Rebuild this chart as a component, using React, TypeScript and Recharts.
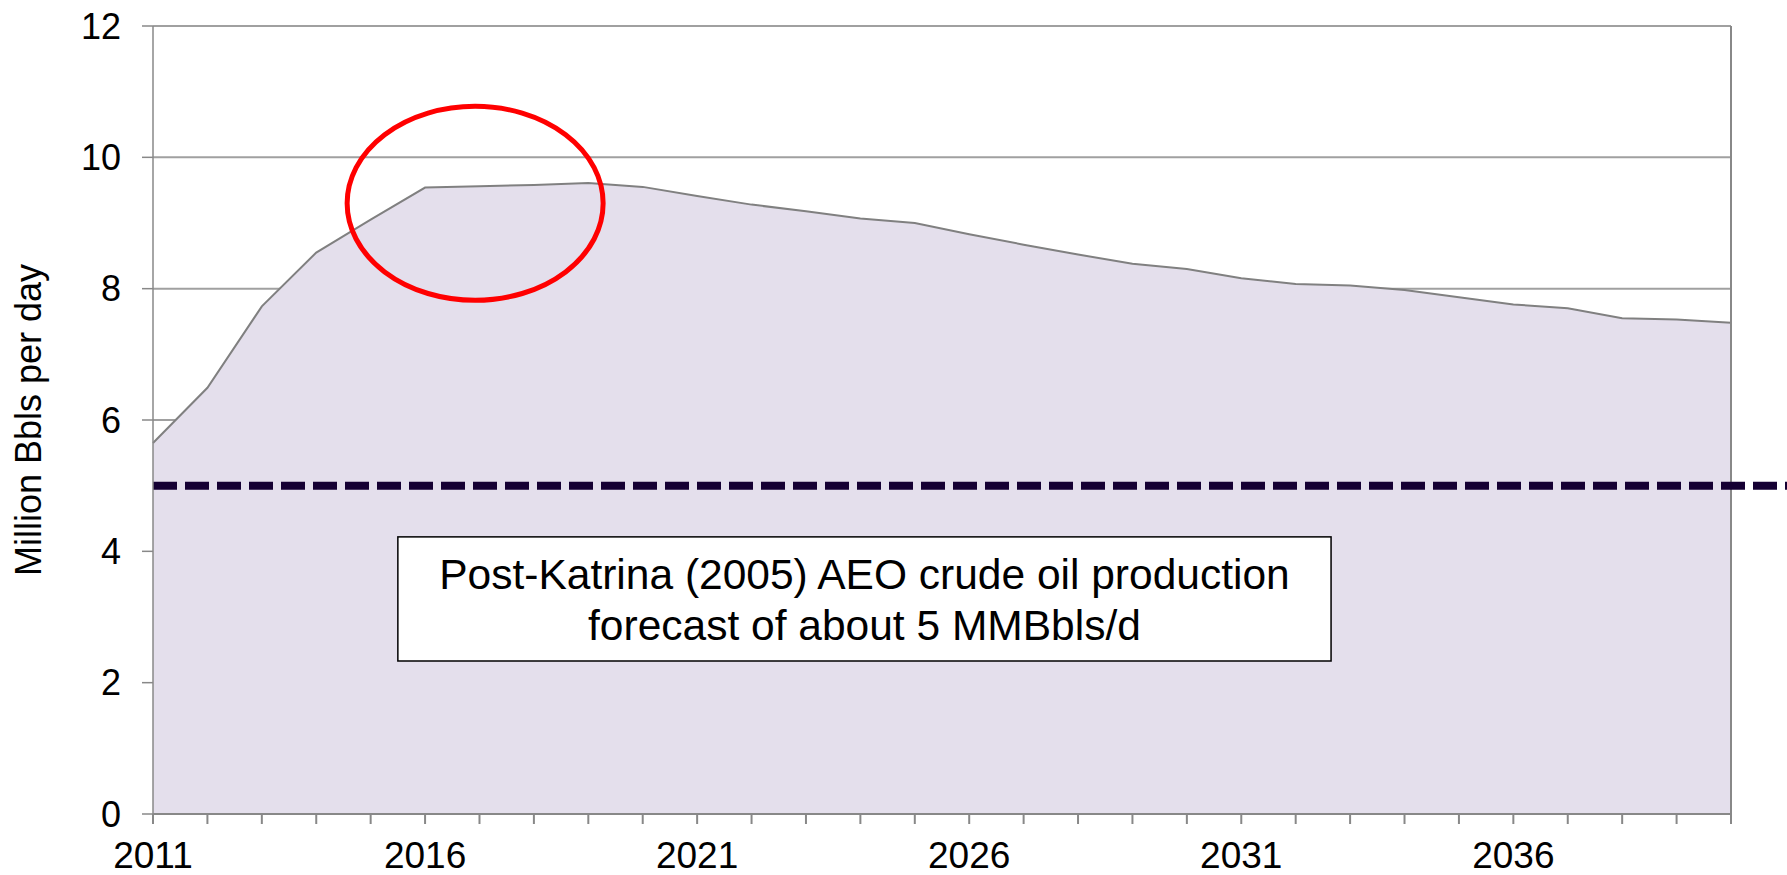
import {
  AreaChart,
  Area,
  XAxis,
  YAxis,
  CartesianGrid,
  ReferenceLine,
  ReferenceArea,
  ReferenceDot,
} from "recharts";

const years = [
  2011, 2012, 2013, 2014, 2015, 2016, 2017, 2018, 2019, 2020,
  2021, 2022, 2023, 2024, 2025, 2026, 2027, 2028, 2029, 2030,
  2031, 2032, 2033, 2034, 2035, 2036, 2037, 2038, 2039, 2040,
];

const production = [
  5.65, 6.49, 7.73, 8.55, 9.05, 9.54, 9.56, 9.58, 9.61, 9.55,
  9.41, 9.28, 9.18, 9.07, 9.0, 8.83, 8.67, 8.52, 8.38, 8.3,
  8.16, 8.07, 8.05, 7.98, 7.87, 7.76, 7.7, 7.55, 7.53, 7.48,
];

const labelYears = [2011, 2016, 2021, 2026, 2031, 2036];
const yTicks = [0, 2, 4, 6, 8, 10, 12];
const forecastLevel = 5;
const boxLines = [
  "Post-Katrina (2005) AEO crude oil production",
  "forecast of about 5 MMBbls/d",
];

const data = years.map((year, i) => ({ year, value: production[i] }));

const FONT = '"Liberation Sans", Arial, sans-serif';

const NoteBox = (props: any) => {
  const { x, y, width, height } = props;
  const cx = x + width / 2;
  const mid = y + height / 2;
  return (
    <g>
      <rect x={x} y={y} width={width} height={height} fill="#ffffff" stroke="#000000" strokeWidth={1.5} />
      <text x={cx} y={mid - 10} textAnchor="middle" fontSize={42.5} fontFamily={FONT} fill="#000">
        {boxLines[0]}
      </text>
      <text x={cx} y={mid + 41} textAnchor="middle" fontSize={42.5} fontFamily={FONT} fill="#000">
        {boxLines[1]}
      </text>
    </g>
  );
};

const Ring = (props: any) => {
  const { cx, cy } = props;
  return <ellipse cx={cx} cy={cy} rx={128} ry={97} fill="none" stroke="#ff0000" strokeWidth={5} />;
};

export default function App() {
  return (
    <div style={{ position: "absolute", left: 0, top: 0, background: "#fff" }}>
      <AreaChart
        width={1787}
        height={875}
        data={data}
        margin={{ top: 26, right: 56, bottom: 0, left: 0 }}
        style={{ fontFamily: FONT }}
      >
        <CartesianGrid vertical={false} stroke="#a0a0a0" strokeWidth={2} />
        <XAxis
          dataKey="year"
          type="number"
          domain={[2011, 2040]}
          ticks={years}
          interval={0}
          height={61}
          tickSize={10}
          tickMargin={18}
          tickFormatter={(v: number) => (labelYears.includes(v) ? String(v) : "")}
          tick={{ fill: "#000", fontSize: 37 }}
          stroke="#888888"
          strokeWidth={2}
        />
        <YAxis
          domain={[0, 12]}
          ticks={yTicks}
          width={153}
          tickSize={11}
          tickMargin={21}
          tick={{ fill: "#000", fontSize: 36 }}
          stroke="#888888"
          strokeWidth={1.5}
          label={{
            value: "Million Bbls per day",
            angle: -90,
            position: "insideLeft",
            offset: 28,
            style: { fill: "#000", fontSize: 36, textAnchor: "middle" },
          }}
        />
        <Area
          type="linear"
          dataKey="value"
          stroke="#808080"
          strokeWidth={2}
          fill="#e4dfec"
          fillOpacity={1}
          isAnimationActive={false}
        />
        <ReferenceLine x={2040} stroke="#888888" strokeWidth={2} />
        <ReferenceArea x1={2015.5} x2={2032.65} y1={2.33} y2={4.22} shape={NoteBox} />
        <ReferenceLine
          segment={[
            { x: 2011, y: forecastLevel },
            { x: 2042, y: forecastLevel },
          ]}
          ifOverflow="visible"
          stroke="#150033"
          strokeWidth={8}
          strokeDasharray="24 8"
        />
        <ReferenceDot x={2016.92} y={9.3} shape={Ring} />
      </AreaChart>
    </div>
  );
}
